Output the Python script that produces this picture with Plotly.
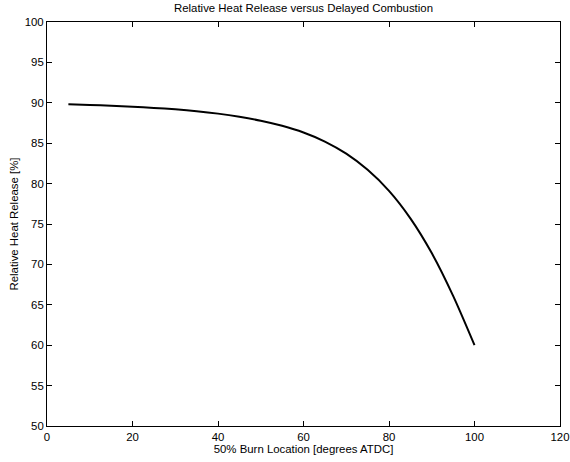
import plotly.graph_objects as go

burn_location = [5, 10, 15, 20, 25, 30, 35, 40, 45, 50, 55, 60, 65, 70, 75, 80, 85, 90, 95, 100]
heat_release = [89.82, 89.74, 89.64, 89.52, 89.37, 89.19, 88.96, 88.66, 88.27, 87.78, 87.15,
                86.32, 85.2, 83.7, 81.7, 79.1, 75.7, 71.4, 66.1, 60.0]

x_ticks = [0, 20, 40, 60, 80, 100, 120]
y_ticks = [50, 55, 60, 65, 70, 75, 80, 85, 90, 95, 100]

fig = go.Figure()
fig.add_trace(go.Scatter(
    x=burn_location, y=heat_release, mode="lines",
    line=dict(color="black", width=2, shape="spline", smoothing=0.8),
    showlegend=False, hoverinfo="skip",
))

axis_common = dict(
    showline=True, linecolor="black", linewidth=1, mirror="ticks",
    ticks="inside", ticklen=5, tickcolor="black", tickwidth=1,
    showgrid=False, zeroline=False, automargin=False,
    tickfont=dict(family="Liberation Sans, Arial", size=11.4, color="black"),
)

fig.update_layout(
    width=570, height=462,
    margin=dict(l=47, r=10, t=22, b=36),
    paper_bgcolor="white", plot_bgcolor="white",
    font=dict(family="Liberation Sans, Arial", size=11.4, color="black"),
    title=dict(text="Relative Heat Release versus Delayed Combustion",
               xref="paper", x=0.5, xanchor="center",
               yref="container", y=0.982, yanchor="middle",
               font=dict(size=11.4, color="black")),
    xaxis=dict(range=[0, 120], tickvals=x_ticks,
               title=dict(text="50% Burn Location [degrees ATDC]", standoff=0,
                          font=dict(size=11.4)),
               **axis_common),
    yaxis=dict(range=[50, 100], tickvals=y_ticks,
               title=dict(text="Relative Heat Release [%]", standoff=3,
                          font=dict(size=11.4)),
               **axis_common),
)

fig.write_html("out.html",
               config={"displayModeBar": False},
               post_script="document.body.style.margin='0';document.body.style.overflow='hidden';")
